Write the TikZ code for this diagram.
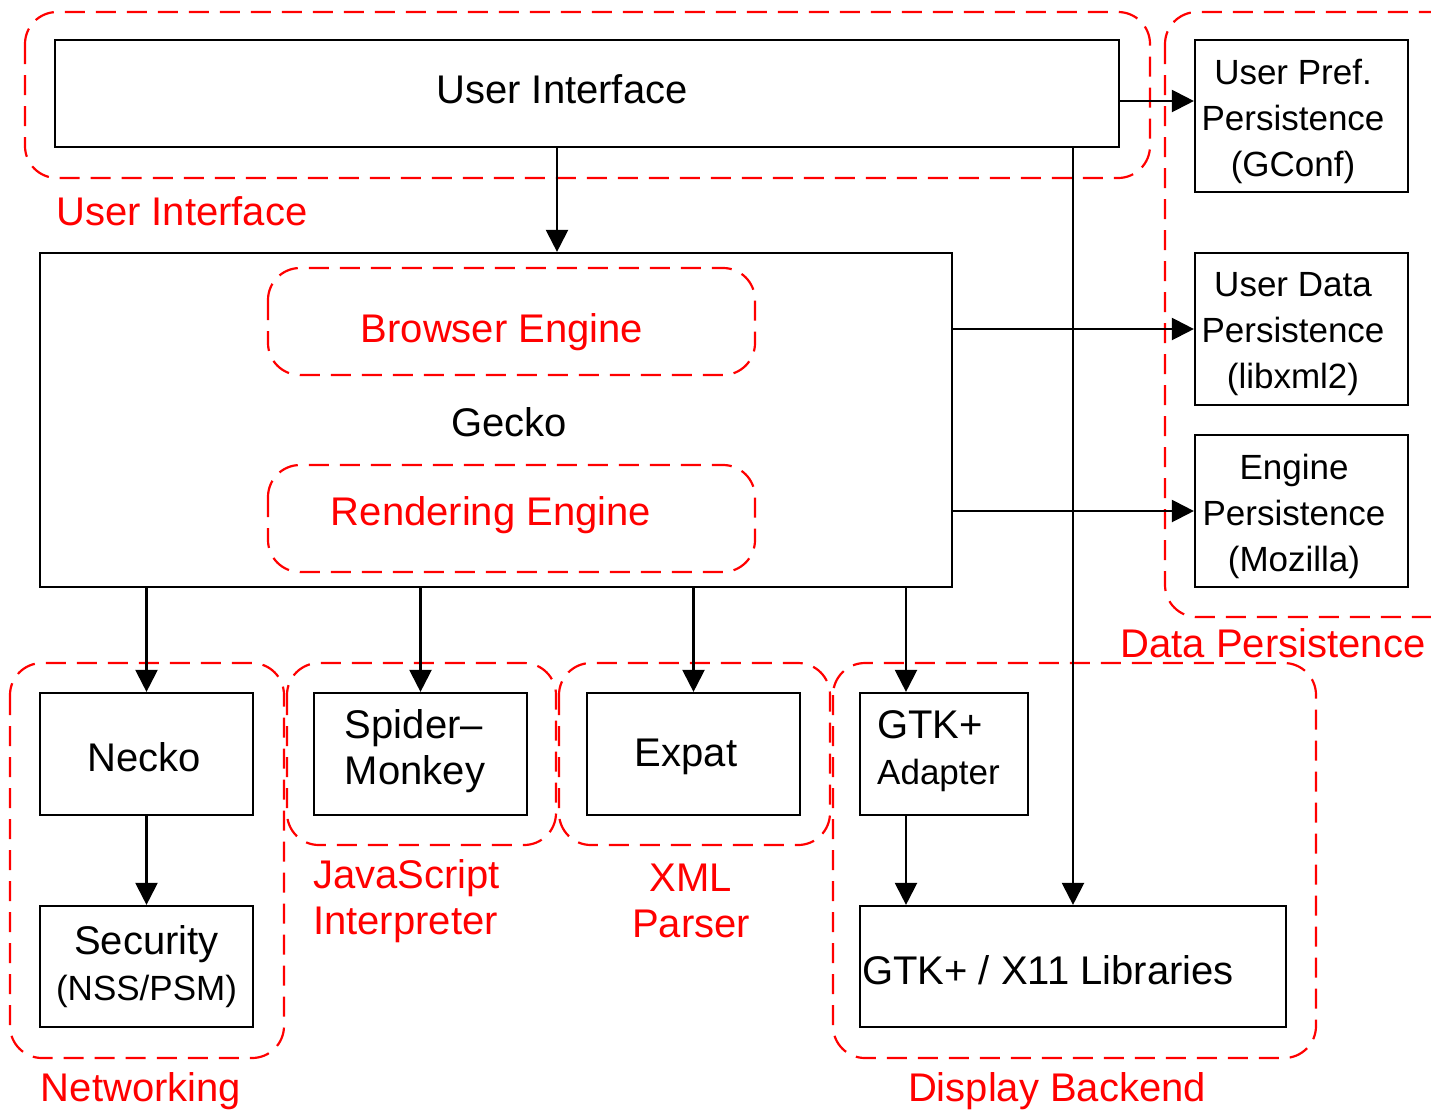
\documentclass[tikz,border=0pt]{standalone}
\usepackage{fontspec}
\setmainfont{Liberation Sans}
\usetikzlibrary{arrows.meta,calc}
\begin{document}
\begin{tikzpicture}[x=1pt,y=-1pt,
  box/.style={draw, line width=2.2pt, inner sep=0pt, align=center, font=\fontsize{40}{46}\selectfont},
  txt/.style={inner sep=0pt, align=center, font=\fontsize{40}{46}\selectfont},
  grp/.style={draw=red, line width=2.2pt, dash pattern=on 20pt off 11pt, rounded corners=32pt},
  lab/.style={text=red, inner sep=0pt, font=\fontsize{40}{46}\selectfont},
  arr/.style={-{Triangle[length=22pt,width=22pt]}, line width=2.2pt},
  sm/.style={font=\fontsize{35}{46}\selectfont}]
\path[use as bounding box, clip] (0,0) rectangle (1431,1112);
\fill[white] (0,0) rectangle (1431,1112);
% groups
\draw[grp] (25,12) rectangle (1150,178);
\draw[grp] (1165,12) rectangle (1462,617);
\draw[grp] (268,268) rectangle (755,375);
\draw[grp] (268,465) rectangle (755,572);
\draw[grp] (10,663) rectangle (284,1058);
\draw[grp] (287,663) rectangle (556,845);
\draw[grp] (559,663) rectangle (830,845);
\draw[grp] (833,663) rectangle (1316,1058);
% boxes
\node[box, minimum width=1064pt, minimum height=107pt] (ui) at (587,93.5) {};
\node[txt] (uitext) at (562,89) {User Interface};
\node[box, minimum width=213pt, minimum height=152pt] (userpref) at (1301.5,116) {};
\node[txt, sm] (userpreftext) at (1293,121) {User Pref.\\Persistence\\(GConf)};
\node[box, minimum width=213pt, minimum height=152pt] (userdata) at (1301.5,329) {};
\node[txt, sm] (userdatatext) at (1293,334) {User Data\\Persistence\\(libxml2)};
\node[box, minimum width=213pt, minimum height=152pt] (enginep) at (1301.5,511) {};
\node[txt, sm] (engineptext) at (1294,516) {Engine\\Persistence\\(Mozilla)};
\node[box, minimum width=912pt, minimum height=334pt] (gecko) at (496,420) {};
\node[txt] (geckotext) at (509,422) {Gecko};
\node[box, minimum width=213pt, minimum height=122pt] (necko) at (146.5,754) {};
\node[txt] (neckotext) at (144,757) {Necko};
\node[box, minimum width=213pt, minimum height=121pt] (security) at (146.5,966.5) {Security\\{\fontsize{35}{46}\selectfont(NSS/PSM)}};
\node[box, minimum width=213pt, minimum height=122pt] (spider) at (420.5,754) {};
\node[txt, align=left] (spidertext) at (415,751) {Spider--\\Monkey};
\node[box, minimum width=213pt, minimum height=122pt] (expat) at (693.5,754) {};
\node[txt] (expattext) at (686,757) {Expat};
\node[box, minimum width=168pt, minimum height=122pt] (gtka) at (944,754) {};
\node[txt, anchor=west, align=left] (gtkatext) at (877,751) {GTK+\\{\fontsize{35}{46}\selectfont Adapter}};
\node[box, minimum width=426pt, minimum height=121pt] (gtkx) at (1073,966.5) {};
\node[txt, anchor=west] (gtkxtext) at (862,970) {GTK+ / X11 Libraries};
% red labels
\node[lab, anchor=west] (luI) at (56,211) {User Interface};
\node[lab] (lbe) at (502,332) {Browser Engine};
\node[lab] (lre) at (491,515) {Rendering Engine};
\node[lab] (ldp) at (1273,643) {Data Persistence};
\node[lab] (lnet) at (141,1091) {Networking};
\node[lab, anchor=west, align=left] (ljs) at (313,901) {JavaScript\\Interpreter};
\node[lab, align=center] (lxml) at (691,901) {XML\\Parser};
\node[lab] (ldb) at (1057,1091) {Display Backend};
% arrows
\draw[arr] ($(ui.south)+(-30,0)$) -- ($(gecko.north)+(61,0)$);
\draw[arr] ($(ui.east)+(0,7.5)$) -- ($(userpref.west)+(0,-15)$);
\draw[arr] ($(ui.south)+(486,0)$) -- (gtkx.north);
\draw[arr] ($(gecko.east)+(0,-91)$) -- (userdata.west);
\draw[arr] ($(gecko.east)+(0,91)$) -- (enginep.west);
\draw[arr] (gecko.south -| necko.north) -- (necko.north);
\draw[arr] (gecko.south -| spider.north) -- (spider.north);
\draw[arr] (gecko.south -| expat.north) -- (expat.north);
\draw[arr] ($(gecko.south)+(410,0)$) -- ($(gtka.north)+(-38,0)$);
\draw[arr] (necko.south) -- (security.north);
\draw[arr] ($(gtka.south)+(-38,0)$) -- ($(gtkx.north)+(-167,0)$);
\end{tikzpicture}
\end{document}
